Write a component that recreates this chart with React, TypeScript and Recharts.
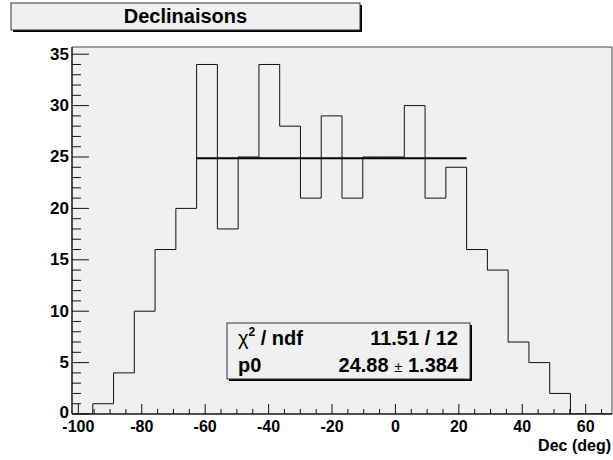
import { ComposedChart, Line, XAxis, YAxis, ReferenceArea, ReferenceLine } from "recharts";

// histogram bin edges (deg) and counts per bin
const binEdges = [
  -102, -95.45, -88.9, -82.35, -75.8, -69.25, -62.7, -56.15, -49.6, -43.05, -36.5, -29.95, -23.4,
  -16.85, -10.3, -3.75, 2.8, 9.35, 15.9, 22.45, 29, 35.55, 42.1, 48.65, 55.2, 61.75, 68.3,
];
const binCounts = [0, 1, 4, 10, 16, 20, 34, 18, 25, 34, 28, 21, 29, 21, 25, 25, 30, 21, 24, 16, 14, 7, 5, 2, 0, 0];

// pol0 fit
const fitRange = [-62.7, 22.45];
const fitP0 = 24.88;

const xDomain = [-102, 68.3];
const yDomain = [0, 35.7];

const xTicks = [
  -100, -95, -90, -85, -80, -75, -70, -65, -60, -55, -50, -45, -40, -35, -30, -25, -20, -15, -10, -5,
  0, 5, 10, 15, 20, 25, 30, 35, 40, 45, 50, 55, 60, 65,
];
const yTicks = [
  0, 1, 2, 3, 4, 5, 6, 7, 8, 9, 10, 11, 12, 13, 14, 15, 16, 17, 18, 19, 20, 21, 22, 23, 24, 25, 26,
  27, 28, 29, 30, 31, 32, 33, 34, 35,
];

const histPoints = binEdges.map((x, i) => ({
  x,
  y: binCounts[Math.min(i, binCounts.length - 1)],
}));

const FONT = '"Liberation Sans", Arial, Helvetica, sans-serif';
const W = 613;
const H = 460;

const YTick = (props: any) => {
  const { x, y, payload } = props;
  const v = payload.value;
  const major = v % 5 === 0;
  return (
    <g>
      <line x1={x} y1={y} x2={x + (major ? 17 : 9)} y2={y} stroke="#111" strokeWidth={1} />
      {major && (
        <text
          x={x - 3}
          y={v === 0 ? y - 2 : y}
          textAnchor="end"
          dominantBaseline="central"
          fontFamily={FONT}
          fontWeight="bold"
          fontSize={17}
          fill="#000"
        >
          {v}
        </text>
      )}
    </g>
  );
};

const XTick = (props: any) => {
  const { x, y, payload } = props;
  const v = payload.value;
  const major = v % 20 === 0;
  return (
    <g>
      <line x1={x} y1={y} x2={x} y2={y - (major ? 10 : 5)} stroke="#111" strokeWidth={1} />
      {major && (
        <text
          x={x}
          y={y + 18}
          textAnchor="middle"
          fontFamily={FONT}
          fontWeight="bold"
          fontSize={16}
          fill="#000"
        >
          {v}
        </text>
      )}
    </g>
  );
};

export default function App() {
  return (
    <div style={{ position: "absolute", left: 0, top: 0, width: W, height: H, background: "#fff" }}>
      <ComposedChart
        width={W}
        height={H}
        data={histPoints}
        margin={{ top: 47, right: 1, bottom: 0, left: 0 }}
      >
        <XAxis
          dataKey="x"
          type="number"
          domain={xDomain}
          allowDataOverflow
          ticks={xTicks}
          interval={0}
          height={46}
          tickSize={0}
          tickMargin={0}
          tickLine={false}
          tick={<XTick />}
          axisLine={{ stroke: "#000", strokeWidth: 1 }}
        />
        <YAxis
          type="number"
          domain={yDomain}
          allowDataOverflow
          ticks={yTicks}
          interval={0}
          width={72}
          tickSize={0}
          tickMargin={0}
          tickLine={false}
          tick={<YTick />}
          axisLine={{ stroke: "#000", strokeWidth: 1 }}
        />
        <ReferenceArea
          x1={xDomain[0]}
          x2={xDomain[1]}
          y1={yDomain[0]}
          y2={yDomain[1]}
          fill="#f0f0f0"
          fillOpacity={1}
          stroke="#444"
          strokeWidth={1}
        />
        <Line
          dataKey="y"
          type="stepAfter"
          stroke="#111"
          strokeWidth={1}
          dot={false}
          activeDot={false}
          isAnimationActive={false}
        />
        <ReferenceLine
          segment={[
            { x: fitRange[0], y: fitP0 },
            { x: fitRange[1], y: fitP0 },
          ]}
          stroke="#000"
          strokeWidth={2}
        />
      </ComposedChart>

      <svg
        width={W}
        height={H}
        style={{ position: "absolute", left: 0, top: 0, pointerEvents: "none" }}
        fontFamily={FONT}
      >
        {/* title box */}
        <rect x={13} y={5} width={349} height={27} fill="#000" />
        <rect x={11} y={3} width={349} height={27} fill="#f0f0f0" stroke="#333" strokeWidth={1} />
        <text x={185.5} y={23} textAnchor="middle" fontWeight="bold" fontSize={20} fill="#000">
          Declinaisons
        </text>

        {/* stats box */}
        <rect x={229} y={325} width={243} height={56} fill="#000" />
        <rect x={227} y={323} width={243} height={56} fill="#f0f0f0" stroke="#333" strokeWidth={1} />
        <text x={238} y={345} fontWeight="bold" fontSize={20} fill="#000">
          <tspan fontWeight="normal">χ</tspan>
          <tspan fontSize={12} dy={-9}>2</tspan>
          <tspan dy={9}> / ndf</tspan>
        </text>
        <text x={458} y={345} textAnchor="end" fontWeight="bold" fontSize={20} fill="#000">
          11.51 / 12
        </text>
        <text x={238} y={372} fontWeight="bold" fontSize={20} fill="#000">
          p0
        </text>
        <text x={458} y={372} textAnchor="end" fontWeight="bold" fontSize={20} fill="#000">
          24.88 <tspan fontWeight="normal" fontSize={15}>±</tspan> 1.384
        </text>

        {/* x axis title */}
        <text x={611} y={451} textAnchor="end" fontWeight="bold" fontSize={16} fill="#000">
          Dec (deg)
        </text>
      </svg>
    </div>
  );
}
